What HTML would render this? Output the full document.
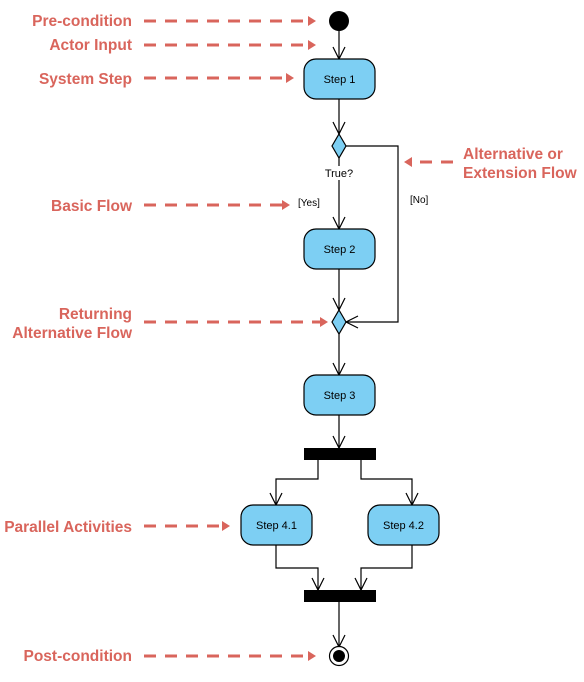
<!DOCTYPE html>
<html><head><meta charset="utf-8"><style>
html,body{margin:0;padding:0;background:#fff;width:584px;height:682px;overflow:hidden}
svg{display:block}
.lbl{font-family:"Liberation Sans",sans-serif;font-weight:bold;font-size:15.5px;fill:#d9655c}
.t{font-family:"Liberation Sans",sans-serif;font-size:11px;fill:#000}
.d{stroke:#d9655c;stroke-width:3;stroke-dasharray:12 9;fill:none}
.ah{fill:#d9655c}
.ln{stroke:#000;stroke-width:1.2;fill:none}
.box{fill:#7dcff3;stroke:#000;stroke-width:1.2}
</style></head><body>
<svg width="584" height="682" viewBox="0 0 584 682" xmlns="http://www.w3.org/2000/svg">
<!-- labels -->
<g class="lbl" text-anchor="end">
<text x="132" y="26">Pre-condition</text>
<text x="132" y="50">Actor Input</text>
<text x="132" y="84">System Step</text>
<text x="132" y="211">Basic Flow</text>
<text x="132" y="319">Returning</text>
<text x="132" y="338">Alternative Flow</text>
<text x="132" y="532">Parallel Activities</text>
<text x="132" y="661">Post-condition</text>
</g>
<g class="lbl"><text x="463" y="159">Alternative or</text><text x="463" y="178">Extension Flow</text></g>
<!-- dashed arrows -->
<line class="d" x1="144" y1="21" x2="308" y2="21"/><polygon class="ah" points="308,16 316,21 308,26"/>
<line class="d" x1="144" y1="45" x2="308" y2="45"/><polygon class="ah" points="308,40 316,45 308,50"/>
<line class="d" x1="144" y1="78" x2="286" y2="78"/><polygon class="ah" points="286,73 294,78 286,83"/>
<line class="d" x1="144" y1="205" x2="282" y2="205"/><polygon class="ah" points="282,200 290,205 282,210"/>
<line class="d" x1="144" y1="322" x2="322" y2="322"/><polygon class="ah" points="320,317 328,322 320,327"/>
<line class="d" x1="144" y1="526" x2="222" y2="526"/><polygon class="ah" points="222,521 230,526 222,531"/>
<line class="d" x1="144" y1="656" x2="308" y2="656"/><polygon class="ah" points="308,651 316,656 308,661"/>
<line class="d" x1="453" y1="162" x2="413" y2="162" stroke-dasharray="12 9"/><polygon class="ah" points="412,157 404,162 412,167"/>
<!-- flow lines -->
<g class="ln">
<line x1="339" y1="21" x2="339" y2="59"/><polyline points="333,47 339,59 345,47"/>
<line x1="339" y1="99" x2="339" y2="134"/><polyline points="333,122 339,134 345,122"/>
<line x1="339" y1="158" x2="339" y2="166"/>
<line x1="339" y1="180" x2="339" y2="229"/><polyline points="333,217 339,229 345,217"/>
<polyline points="346,146 398,146 398,322 346,322"/><polyline points="358,316 346,322 358,328"/>
<line x1="339" y1="269" x2="339" y2="310"/><polyline points="333,298 339,310 345,298"/>
<line x1="339" y1="334" x2="339" y2="375"/><polyline points="333,363 339,375 345,363"/>
<line x1="339" y1="415" x2="339" y2="448"/><polyline points="333,436 339,448 345,436"/>
<polyline points="318,460 318,479 276,479 276,505"/><polyline points="270,493 276,505 282,493"/>
<polyline points="361,460 361,479 412,479 412,505"/><polyline points="406,493 412,505 418,493"/>
<polyline points="276,545 276,568 318,568 318,590"/><polyline points="312,578 318,590 324,578"/>
<polyline points="412,545 412,568 361,568 361,590"/><polyline points="355,578 361,590 367,578"/>
<line x1="339" y1="602" x2="339" y2="647"/><polyline points="333,635 339,647 345,635"/>
</g>
<!-- nodes -->
<circle cx="339" cy="21" r="10" fill="#000"/>
<rect class="box" x="304" y="59" width="71" height="40" rx="12"/>
<text class="t" x="339.5" y="83" text-anchor="middle">Step 1</text>
<polygon class="box" points="339,134 346,146 339,158 332,146"/>
<text class="t" x="339" y="177" text-anchor="middle">True?</text>
<text class="t" x="298" y="206" style="font-size:10px">[Yes]</text>
<text class="t" x="410" y="203" style="font-size:10px">[No]</text>
<rect class="box" x="304" y="229" width="71" height="40" rx="12"/>
<text class="t" x="339.5" y="253" text-anchor="middle">Step 2</text>
<polygon class="box" points="339,310 346,322 339,334 332,322"/>
<rect class="box" x="304" y="375" width="71" height="40" rx="12"/>
<text class="t" x="339.5" y="399" text-anchor="middle">Step 3</text>
<rect x="304" y="448" width="72" height="12" fill="#000"/>
<rect class="box" x="241" y="505" width="71" height="40" rx="12"/>
<text class="t" x="276.5" y="529" text-anchor="middle">Step 4.1</text>
<rect class="box" x="368" y="505" width="71" height="40" rx="12"/>
<text class="t" x="403.5" y="529" text-anchor="middle">Step 4.2</text>
<rect x="304" y="590" width="72" height="12" fill="#000"/>
<circle cx="339" cy="656" r="9.5" fill="#fff" stroke="#000" stroke-width="1.2"/>
<circle cx="339" cy="656" r="6" fill="#000"/>
</svg>
</body></html>
